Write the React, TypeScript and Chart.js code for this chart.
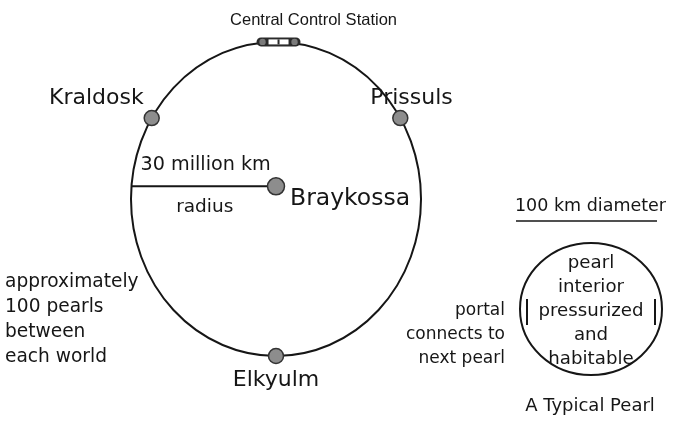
import React, { useEffect, useRef } from 'react';
import { Chart, registerables } from 'chart.js';

Chart.register(...registerables);

// ---------- data ----------
const worldNames = ['Kraldosk', 'Prissuls', 'Elkyulm'];
const worldAnglesDeg = [149, 31, 270];
const orbitRadiusMkm = 30;
const stationName = 'Central Control Station';
const stationAngleDeg = 89;
const starName = 'Braykossa';
const starPosMkm = [0, 2.4];
const radiusLabels = ['30 million km', 'radius'];
const noteLines = ['approximately', '100 pearls', 'between', 'each world'];
const pearlDiameterLabel = '100 km diameter';
const pearlLines = ['pearl', 'interior', 'pressurized', 'and', 'habitable'];
const portalLines = ['portal', 'connects to', 'next pearl'];
const pearlCaption = 'A Typical Pearl';

// ---------- layout (pixels / scale ranges) ----------
const W = 683;
const H = 423;
const X_RANGE = [-57.1, 84.2];
const Y_RANGE = [-42.8, 38.0];
const FONT = '"DejaVu Sans", "Liberation Sans", sans-serif';
const FONT_NARROW = '"Liberation Sans", Arial, sans-serif';
const INK = '#161616';
const labelOffsets: Record<string, [number, number, CanvasTextAlign]> = {
  Kraldosk: [-8, -20, 'right'],
  Prissuls: [-30, -20, 'left'],
  Elkyulm: [0, 24, 'center'],
};
const layout = {
  nameSize: 22,
  starSize: 23.5,
  radiusSize: 19.2,
  notesSize: 18.6,
  pearlSize: 18.2,
  portalSize: 17,
  diamSize: 17.5,
  captionSize: 18,
  stationSize: 16.5,
  stationLabel: [35, -21],
  starLabel: [14, 13],
  notesX: 5,
  notesY: 282,
  lineGap: 25,
  pearlCx: 591,
  pearlCy: 309,
  pearlRx: 71,
  pearlRy: 66,
  pearlTextY: 263,
  pearlGap: 24,
  portalRight: 505,
  portalY: 311,
  diamY: 206,
  diamLine: [516, 657, 221],
  captionY: 406,
};

function text(ctx: CanvasRenderingContext2D, s: string, x: number, y: number, size: number, align: CanvasTextAlign = 'left', family = FONT) {
  ctx.font = `${size}px ${family}`;
  ctx.textAlign = align;
  ctx.textBaseline = 'middle';
  ctx.fillStyle = INK;
  ctx.fillText(s, x, y);
}

function polar(angleDeg: number, r: number) {
  const a = (angleDeg * Math.PI) / 180;
  return { x: r * Math.cos(a), y: r * Math.sin(a) };
}

const diagramPlugin = {
  id: 'diagram',
  beforeDatasetsDraw(chart: any) {
    const ctx: CanvasRenderingContext2D = chart.ctx;
    const xs = chart.scales.x;
    const ys = chart.scales.y;
    const cx = xs.getPixelForValue(0);
    const cy = ys.getPixelForValue(0);
    const rx = xs.getPixelForValue(orbitRadiusMkm) - cx;
    const ry = cy - ys.getPixelForValue(orbitRadiusMkm);
    ctx.save();
    ctx.strokeStyle = INK;
    ctx.lineWidth = 2;
    ctx.beginPath();
    ctx.ellipse(cx, cy, rx, ry, 0, 0, Math.PI * 2);
    ctx.stroke();
    ctx.restore();
  },
  afterDatasetsDraw(chart: any) {
    const ctx: CanvasRenderingContext2D = chart.ctx;
    const xs = chart.scales.x;
    const ys = chart.scales.y;
    ctx.save();
    // control station capsule
    const st = polar(stationAngleDeg, orbitRadiusMkm);
    const sx = xs.getPixelForValue(st.x);
    const sy = ys.getPixelForValue(st.y);
    ctx.fillStyle = '#2a2a2a';
    ctx.beginPath();
    ctx.roundRect(sx - 22, sy - 4.5, 44, 9, 4.5);
    ctx.fill();
    ctx.fillStyle = '#7a7a7a';
    for (const dx of [-16, 16]) {
      ctx.beginPath();
      ctx.arc(sx + dx, sy, 3.2, 0, Math.PI * 2);
      ctx.fill();
    }
    ctx.fillStyle = '#ffffff';
    ctx.fillRect(sx - 10, sy - 2.5, 20, 5);
    ctx.fillStyle = '#2a2a2a';
    ctx.fillRect(sx - 1, sy - 2.5, 2, 5);
    text(ctx, stationName, sx + layout.stationLabel[0], sy + layout.stationLabel[1], layout.stationSize, 'center', FONT_NARROW);

    // world labels
    worldNames.forEach((name, i) => {
      const p = polar(worldAnglesDeg[i], orbitRadiusMkm);
      const px = xs.getPixelForValue(p.x);
      const py = ys.getPixelForValue(p.y);
      const [ox, oy, al] = labelOffsets[name];
      text(ctx, name, px + ox, py + oy, layout.nameSize, al);
    });

    // star + radius labels
    const bx = xs.getPixelForValue(starPosMkm[0]);
    const by = ys.getPixelForValue(starPosMkm[1]);
    text(ctx, starName, bx + layout.starLabel[0], by + layout.starLabel[1], layout.starSize, 'left');
    const lx = xs.getPixelForValue(-Math.sqrt(orbitRadiusMkm ** 2 - starPosMkm[1] ** 2));
    text(ctx, radiusLabels[0], lx + 9, by - 21, layout.radiusSize, 'left');
    text(ctx, radiusLabels[1], (lx + bx) / 2 + 1, by + 21, layout.radiusSize - 0.7, 'center');

    // notes
    noteLines.forEach((s, i) => text(ctx, s, layout.notesX, layout.notesY + i * layout.lineGap, layout.notesSize, 'left'));

    // pearl inset
    const [ul0, ul1, uly] = layout.diamLine;
    text(ctx, pearlDiameterLabel, (ul0 + ul1) / 2 + 4, layout.diamY, layout.diamSize, 'center');
    ctx.strokeStyle = INK;
    ctx.lineWidth = 1.5;
    ctx.beginPath();
    ctx.moveTo(ul0, uly);
    ctx.lineTo(ul1, uly);
    ctx.stroke();

    ctx.lineWidth = 2;
    ctx.beginPath();
    ctx.ellipse(layout.pearlCx, layout.pearlCy, layout.pearlRx, layout.pearlRy, 0, 0, Math.PI * 2);
    ctx.stroke();
    pearlLines.forEach((s, i) => text(ctx, s, layout.pearlCx, layout.pearlTextY + i * layout.pearlGap, layout.pearlSize, 'center'));
    // portals
    ctx.lineWidth = 2;
    for (const dx of [-64, 64]) {
      ctx.beginPath();
      ctx.moveTo(layout.pearlCx + dx, layout.pearlCy - 10);
      ctx.lineTo(layout.pearlCx + dx, layout.pearlCy + 16);
      ctx.stroke();
    }
    portalLines.forEach((s, i) => text(ctx, s, layout.portalRight, layout.portalY + i * layout.pearlGap, layout.portalSize, 'right'));
    text(ctx, pearlCaption, layout.pearlCx - 1, layout.captionY, layout.captionSize, 'center');
    ctx.restore();
  },
};

export default function App() {
  const ref = useRef<HTMLCanvasElement | null>(null);
  useEffect(() => {
    if (!ref.current) return;
    const worldPts = worldAnglesDeg.map((a) => polar(a, orbitRadiusMkm));
    const radiusLine = [
      { x: -Math.sqrt(orbitRadiusMkm ** 2 - starPosMkm[1] ** 2), y: starPosMkm[1] },
      { x: starPosMkm[0], y: starPosMkm[1] },
    ];
    const dotStyle = {
      pointBackgroundColor: '#8d8d8d',
      pointBorderColor: '#333333',
      pointBorderWidth: 1.5,
      showLine: false,
    };
    const chart = new Chart(ref.current, {
      type: 'scatter',
      data: {
        datasets: [
          { label: 'radius', data: radiusLine, showLine: true, borderColor: INK, borderWidth: 2, pointRadius: 0, order: 3 } as any,
          { label: 'worlds', data: worldPts, ...dotStyle, pointRadius: 7.5, order: 1 } as any,
          { label: starName, data: [{ x: starPosMkm[0], y: starPosMkm[1] }], ...dotStyle, pointRadius: 8.5, order: 1 } as any,
        ],
      },
      options: {
        animation: false,
        responsive: false,
        devicePixelRatio: 1,
        layout: { padding: 0, autoPadding: false },
        plugins: { legend: { display: false }, tooltip: { enabled: false } },
        events: [],
        scales: {
          x: { type: 'linear', display: false, min: X_RANGE[0], max: X_RANGE[1] },
          y: { type: 'linear', display: false, min: Y_RANGE[0], max: Y_RANGE[1] },
        },
      },
      plugins: [diagramPlugin],
    });
    return () => chart.destroy();
  }, []);
  return (
    <div style={{ position: 'fixed', left: 0, top: 0, width: W, height: H, background: '#fff' }}>
      <canvas ref={ref} width={W} height={H} style={{ display: 'block' }} />
    </div>
  );
}
